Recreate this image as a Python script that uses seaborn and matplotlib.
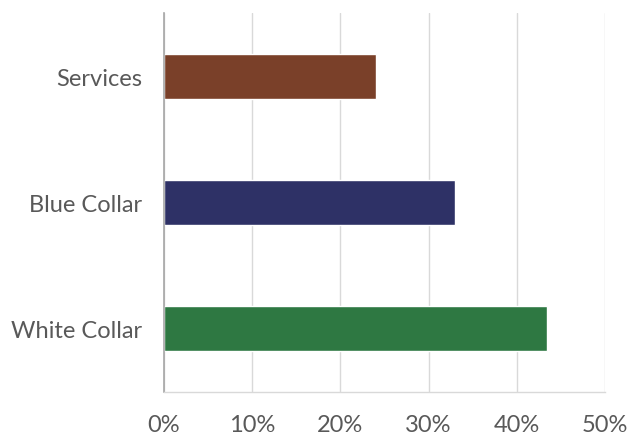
import matplotlib
matplotlib.use("Agg")
import matplotlib.pyplot as plt
import seaborn as sns
import pandas as pd
from matplotlib.ticker import FuncFormatter

categories = ["Services", "Blue Collar", "White Collar"]
values = [24.0, 33.0, 43.4]
colors = ["#7A4029", "#2E3166", "#2E7842"]
xticks = [0, 10, 20, 30, 40, 50]

sns.set_theme(style="white")
plt.rcParams["font.family"] = ["Lato", "DejaVu Sans"]

df = pd.DataFrame({"category": categories, "value": values})

fig = plt.figure(figsize=(6.31, 4.35), dpi=100)
ax = fig.add_axes([164 / 631, 1 - 392.6 / 435, (605 - 164) / 631, (392.6 - 14) / 435])

sns.barplot(data=df, y="category", x="value", hue="category", palette=colors,
            orient="h", width=0.355, legend=False, ax=ax, saturation=1)

ax.set_xlim(0, 50)
ax.set_ylim(2.5, -0.5)
ax.set_xticks(xticks)
ax.xaxis.set_major_formatter(FuncFormatter(lambda v, p: f"{v:.0f}%"))
ax.grid(axis="x", color="#D9D9D9", linewidth=1.0)
ax.set_axisbelow(True)
ax.set_xlabel("")
ax.set_ylabel("")
for s in ["top", "right"]:
    ax.spines[s].set_visible(False)
ax.spines["left"].set_color("#A6A6A6")
ax.spines["left"].set_linewidth(1.2)
ax.spines["bottom"].set_color("#D9D9D9")
ax.spines["bottom"].set_linewidth(1.0)
ax.tick_params(axis="both", length=0, labelsize=17, colors="#595959", pad=16)

fig.savefig("out.png", dpi=100)
